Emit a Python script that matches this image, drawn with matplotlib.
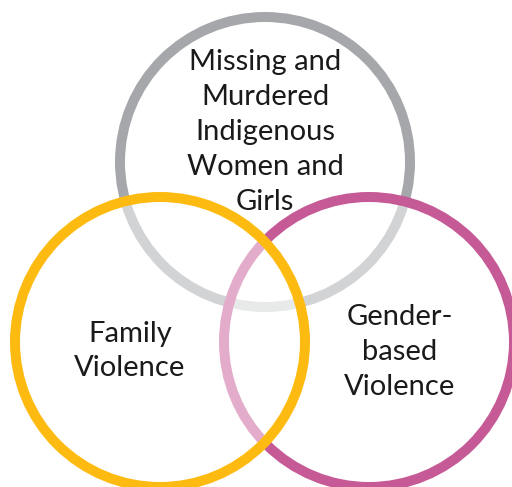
import matplotlib.pyplot as plt
from matplotlib.patches import Circle

# three overlapping themes
labels = [
    "Missing and\nMurdered\nIndigenous\nWomen and\nGirls",
    "Gender-\nbased\nViolence",
    "Family\nViolence",
]
colors = ["#a6a7aa", "#c65a96", "#fdbb12"]

# layout in pixel coordinates (drawing order: gray, pink, yellow)
centers = [(265, 162), (369, 342), (160, 342)]
text_pos = [(265, 132), (400, 352), (130, 351)]
radius = 145
line_px = 10

W, H = 512, 487
fig = plt.figure(figsize=(W / 100, H / 100), dpi=100)
ax = fig.add_axes([0, 0, 1, 1])
ax.set_xlim(0, W)
ax.set_ylim(H, 0)
ax.set_aspect("equal")
ax.axis("off")

for i, (c, col) in enumerate(zip(centers, colors)):
    # white half-transparent fill lightens what lies beneath
    ax.add_patch(Circle(c, radius, facecolor=(1, 1, 1, 0.5), edgecolor="none", zorder=2 * i + 1))
    ax.add_patch(Circle(c, radius, facecolor="none", edgecolor=col,
                        linewidth=line_px * 72 / 100, zorder=2 * i + 2))

for lab, (x, y) in zip(labels, text_pos):
    ax.text(x, y, lab, ha="center", va="center", fontsize=21, family="Lato",
            color="#1a1a1a", linespacing=1.42, zorder=10)

fig.savefig("out.png", dpi=100)
